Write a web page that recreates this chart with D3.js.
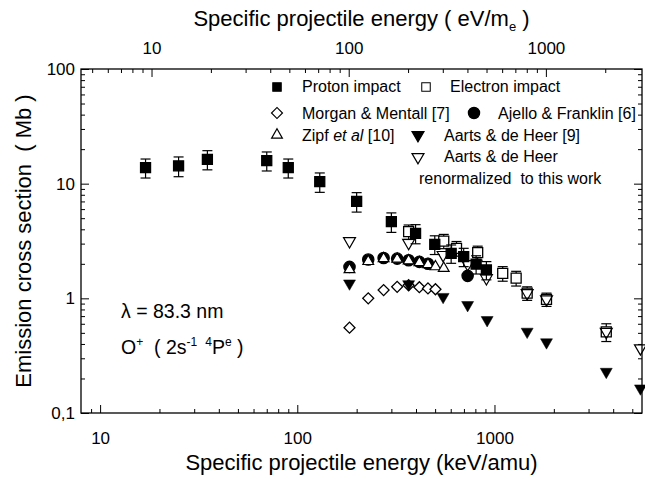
<!DOCTYPE html>
<html>
<head>
<meta charset="utf-8">
<script src="https://cdn.jsdelivr.net/npm/d3@7"></script>
<style>
  html, body { margin: 0; padding: 0; background: #fff; }
  svg { display: block; font-family: "Liberation Sans", Arial, Helvetica, sans-serif; }
  text { white-space: pre; }
</style>
</head>
<body>
<svg id="chart" width="645" height="479"></svg>
<script>
// Specific projectile energy (keV/amu) and emission cross sections (Mb)
const protonE = [17, 25, 35, 70, 90, 130, 200, 300, 398, 498, 603, 698, 807, 910];
const protonSigma = [13.8, 14.3, 16.3, 15.9, 13.8, 10.4, 7.0, 4.66, 3.69, 2.96, 2.47, 2.31, 1.99, 1.77];
const protonErr = [2.6, 2.8, 3.1, 3.0, 2.6, 2.0, 1.35, 0.9, 0.7, 0.55, 0.45, 0.42, 0.36, 0.32];

const electronE = [367, 553, 642, 822, 1101, 1288, 1465, 1836, 3690];
const electronSigma = [3.81, 3.16, 2.73, 2.50, 1.65, 1.50, 1.11, 0.98, 0.51];
const electronErr = [0.55, 0.45, 0.4, 0.35, 0.24, 0.22, 0.15, 0.13, 0.09];

const morganE = [184, 229, 274, 321, 367, 416, 460, 502];
const morganSigma = [0.555, 1.0, 1.18, 1.26, 1.30, 1.25, 1.22, 1.20];

const ajelloE = [184, 229, 274, 321, 367, 416, 460, 731];
const ajelloSigma = [1.88, 2.18, 2.25, 2.22, 2.15, 2.08, 2.0, 1.57];

const zipfE = [184, 229, 274, 321, 367, 416, 460, 502, 553];
const zipfSigma = [1.78, 2.10, 2.22, 2.20, 2.13, 2.05, 1.97, 1.89, 1.83];

const aartsE = [184, 367, 549, 731, 918, 1465, 1836, 3690, 5500];
const aartsSigma = [1.35, 1.33, 1.03, 0.875, 0.647, 0.512, 0.414, 0.229, 0.164];

const aartsRenE = [184, 367, 549, 731, 910, 1465, 1836, 3690, 5500];
const aartsRenSigma = [3.16, 3.05, 2.39, 1.99, 1.50, 1.11, 0.98, 0.51, 0.367];

// Axis ticks
const xMajorTicks = [10, 100, 1000];
const xMajorLabels = ["10", "100", "1000"];
const xMinorTicks = [9, 20, 30, 40, 50, 60, 70, 80, 90, 200, 300, 400, 500, 600, 700, 800, 900, 2000, 3000, 4000, 5000];
const topMajorTicks = [10, 100, 1000];
const topMajorLabels = ["10", "100", "1000"];
const topMinorTicks = [5, 6, 7, 8, 9, 20, 30, 40, 50, 60, 70, 80, 90, 200, 300, 400, 500, 600, 700, 800, 900, 2000];
const yMajorTicks = [0.1, 1, 10, 100];
const yMajorLabels = ["0,1", "1", "10", "100"];
const yMinorTicks = [0.2, 0.3, 0.4, 0.5, 0.6, 0.7, 0.8, 0.9, 2, 3, 4, 5, 6, 7, 8, 9, 20, 30, 40, 50, 60, 70, 80, 90];

// electron energy with the same velocity: E(eV) = E(keV/amu) * 1000 / 1822.89
const keVamuToEVme = 1000 / 1822.89;

const svg = d3.select("#chart");
const L = 81, R = 642, T = 69, B = 413;

const x = d3.scaleLog().domain([8, 5600]).range([L, R]);
const xTop = d3.scaleLog().domain([8 * keVamuToEVme, 5600 * keVamuToEVme]).range([L, R]);
const y = d3.scaleLog().domain([0.1, 100]).range([B, T]);

const fmt = (vals, labels) => d => labels[vals.indexOf(d)];

function styleAxis(g) {
  g.select(".domain").remove();
  g.selectAll(".tick line").attr("stroke", "#000").attr("stroke-width", 1);
  g.selectAll("text").attr("fill", "#000").attr("font-size", 17);
}

// bottom axis
svg.append("g").attr("transform", `translate(0,${B})`)
  .call(d3.axisBottom(x).tickValues(xMinorTicks).tickSize(-4).tickFormat(""))
  .call(styleAxis);
svg.append("g").attr("transform", `translate(0,${B})`)
  .call(d3.axisBottom(x).tickValues(xMajorTicks).tickSize(-8).tickPadding(19)
    .tickFormat(fmt(xMajorTicks, xMajorLabels)))
  .call(styleAxis);

// top axis (eV/m_e)
svg.append("g").attr("transform", `translate(0,${T})`)
  .call(d3.axisTop(xTop).tickValues(topMinorTicks).tickSize(-4).tickFormat(""))
  .call(styleAxis);
svg.append("g").attr("transform", `translate(0,${T})`)
  .call(d3.axisTop(xTop).tickValues(topMajorTicks).tickSize(-8).tickPadding(15)
    .tickFormat(fmt(topMajorTicks, topMajorLabels)))
  .call(styleAxis);

// left axis
svg.append("g").attr("transform", `translate(${L},0)`)
  .call(d3.axisLeft(y).tickValues(yMinorTicks).tickSize(-4).tickFormat(""))
  .call(styleAxis);
svg.append("g").attr("transform", `translate(${L},0)`)
  .call(d3.axisLeft(y).tickValues(yMajorTicks).tickSize(-8).tickPadding(6)
    .tickFormat(fmt(yMajorTicks, yMajorLabels)))
  .call(styleAxis);

// right axis (ticks only)
svg.append("g").attr("transform", `translate(${R},0)`)
  .call(d3.axisRight(y).tickValues(yMinorTicks).tickSize(-4).tickFormat(""))
  .call(styleAxis);
svg.append("g").attr("transform", `translate(${R},0)`)
  .call(d3.axisRight(y).tickValues(yMajorTicks).tickSize(-8).tickFormat(""))
  .call(styleAxis);

// frame
svg.append("rect").attr("x", L).attr("y", T).attr("width", R - L).attr("height", B - T)
  .attr("fill", "none").attr("stroke", "#000").attr("stroke-width", 1.3);

// axis titles
svg.append("text").attr("x", (L + R) / 2).attr("y", 470).attr("text-anchor", "middle")
  .attr("font-size", 22).text("Specific projectile energy (keV/amu)");

const topTitle = svg.append("text").attr("x", (L + R) / 2).attr("y", 26).attr("text-anchor", "middle")
  .attr("font-size", 22);
topTitle.append("tspan").text("Specific projectile energy ( eV/m");
topTitle.append("tspan").attr("font-size", 13).attr("dy", 5).text("e");
topTitle.append("tspan").attr("dy", -5).text(" )");

svg.append("text").attr("transform", `translate(23,${(T + B) / 2}) rotate(-90)`)
  .attr("text-anchor", "middle").attr("dy", "0.35em").attr("font-size", 22)
  .text("Emission cross section  ( Mb )");

// symbols
const sym = (type, size) => d3.symbol().type(type).size(size)();
const pSquare = sym(d3.symbolSquare, 100);
const pDiamond = sym(d3.symbolSquare, 60);
const pCircle = sym(d3.symbolCircle, 100);
const pTriangle = sym(d3.symbolTriangle, 50);
const pTriangleDown = sym(d3.symbolTriangle, 62);

const plot = svg.append("g");

function markers(E, S, path, opts) {
  plot.append("g").selectAll("path").data(E).join("path")
    .attr("d", path)
    .attr("transform", (d, i) => `translate(${x(d)},${y(S[i])})${opts.rotate ? ` rotate(${opts.rotate})` : ""}`)
    .attr("fill", opts.fill).attr("stroke", "#000").attr("stroke-width", opts.sw || 1.3);
}

function errorBars(E, S, err) {
  const g = plot.append("g").attr("stroke", "#000").attr("stroke-width", 1.2);
  E.forEach((d, i) => {
    const cx = x(d), y1 = y(S[i] + err[i]), y2 = y(S[i] - err[i]);
    g.append("line").attr("x1", cx).attr("x2", cx).attr("y1", y1).attr("y2", y2);
    g.append("line").attr("x1", cx - 5).attr("x2", cx + 5).attr("y1", y1).attr("y2", y1);
    g.append("line").attr("x1", cx - 5).attr("x2", cx + 5).attr("y1", y2).attr("y2", y2);
  });
}

markers(morganE, morganSigma, pDiamond, { fill: "#fff", rotate: 45 });
markers(ajelloE, ajelloSigma, pCircle, { fill: "#000", sw: 0 });
markers(zipfE, zipfSigma, pTriangle, { fill: "#fff", sw: 1.2 });
markers(aartsE, aartsSigma, pTriangleDown, { fill: "#000", rotate: 180, sw: 0.5 });
errorBars(electronE, electronSigma, electronErr);
markers(electronE, electronSigma, pSquare, { fill: "#fff" });
markers(aartsRenE, aartsRenSigma, pTriangleDown, { fill: "none", rotate: 180, sw: 1.2 });
errorBars(protonE, protonSigma, protonErr);
markers(protonE, protonSigma, pSquare, { fill: "#000", sw: 0 });

// legend
const legend = svg.append("g").attr("font-size", 16);
const legendRows = [
  { sx: 277, sy: 87, path: pSquare, fill: "#000", scale: 0.85 },
  { sx: 426, sy: 87, path: pSquare, fill: "#fff", scale: 0.85 },
  { sx: 277, sy: 113, path: pDiamond, fill: "#fff", rotate: 45, scale: 1 },
  { sx: 474, sy: 113, path: pCircle, fill: "#000", scale: 1 },
  { sx: 277, sy: 135, path: pTriangle, fill: "#fff", scale: 1 },
  { sx: 418, sy: 135, path: pTriangleDown, fill: "#000", rotate: 180, scale: 1 },
  { sx: 418, sy: 157, path: pTriangleDown, fill: "#fff", rotate: 180, scale: 1 }
];
legend.selectAll("path").data(legendRows).join("path")
  .attr("d", d => d.path)
  .attr("transform", d => `translate(${d.sx},${d.sy}) scale(${d.scale})${d.rotate ? ` rotate(${d.rotate})` : ""}`)
  .attr("fill", d => d.fill).attr("stroke", "#000").attr("stroke-width", 1.2);

const legendTexts = [
  { tx: 302, ty: 92, t: "Proton impact" },
  { tx: 450, ty: 92, t: "Electron impact" },
  { tx: 302, ty: 119, t: "Morgan & Mentall [7]" },
  { tx: 498, ty: 119, t: "Ajello & Franklin [6]" },
  { tx: 444, ty: 141, t: "Aarts & de Heer [9]" },
  { tx: 444, ty: 162, t: "Aarts & de Heer" },
  { tx: 419, ty: 184, t: "renormalized  to this work" }
];
legend.selectAll("text.lt").data(legendTexts).join("text").attr("class", "lt")
  .attr("x", d => d.tx).attr("y", d => d.ty).text(d => d.t);
const zipf = legend.append("text").attr("x", 302).attr("y", 141);
zipf.append("tspan").text("Zipf ");
zipf.append("tspan").attr("font-style", "italic").text("et al");
zipf.append("tspan").text(" [10]");

// transition annotation
const ann = svg.append("g").attr("font-size", 19.5);
ann.append("text").attr("x", 121).attr("y", 318).text("λ = 83.3 nm");
const term = ann.append("text").attr("x", 121).attr("y", 354);
term.append("tspan").text("O");
term.append("tspan").attr("font-size", 12).attr("dy", -8).text("+");
term.append("tspan").attr("dy", 8).text("  ( 2s");
term.append("tspan").attr("font-size", 12).attr("dy", -8).text("-1");
term.append("tspan").attr("font-size", 12).attr("dx", 8).text("4");
term.append("tspan").attr("dy", 8).text("P");
term.append("tspan").attr("font-size", 12).attr("dy", -8).text("e");
term.append("tspan").attr("dy", 8).text(" )");
</script>
</body>
</html>
